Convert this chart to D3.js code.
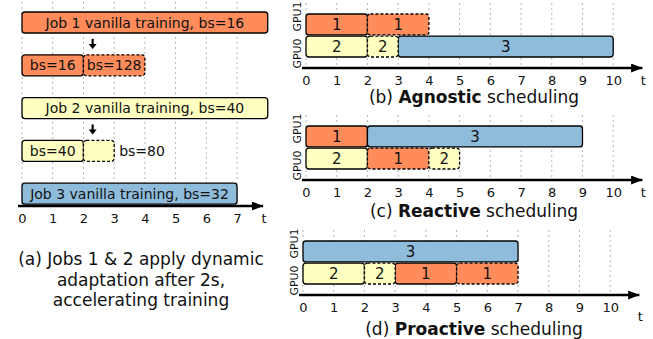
<!DOCTYPE html>
<html>
<head>
<meta charset="utf-8">
<script src="https://cdn.jsdelivr.net/npm/d3@7"></script>
<style>
  body { margin: 0; background: #fff; }
  svg { display: block; }
  text { font-family: "DejaVu Sans", Verdana, sans-serif; fill: #111; }
</style>
</head>
<body>
<svg id="chart" width="653" height="339"></svg>
<script>
// ---- data ----
const ticksA = [0, 1, 2, 3, 4, 5, 6, 7];
const ticksB = [0, 1, 2, 3, 4, 5, 6, 7, 8, 9, 10];

// (a) each job trained alone, then with dynamic batch-size adaptation
const rowsA = ["job1", "job1dyn", "job2", "job2dyn", "job3"];
const segmentsA = [
  { row: "job1",    job: 1, start: 0, end: 8, adapted: false, label: "Job 1 vanilla training, bs=16" },
  { row: "job1dyn", job: 1, start: 0, end: 2, adapted: false, label: "bs=16" },
  { row: "job1dyn", job: 1, start: 2, end: 4, adapted: true,  label: "bs=128" },
  { row: "job2",    job: 2, start: 0, end: 8, adapted: false, label: "Job 2 vanilla training, bs=40" },
  { row: "job2dyn", job: 2, start: 0, end: 2, adapted: false, label: "bs=40" },
  { row: "job2dyn", job: 2, start: 2, end: 3, adapted: true,  label: "" },
  { row: "job3",    job: 3, start: 0, end: 7, adapted: false, label: "Job 3 vanilla training, bs=32" }
];
const sideLabelsA = [{ row: "job2dyn", at: 3, label: "bs=80" }];
const adaptArrowsA = [{ from: "job1", to: "job1dyn", at: 2.3 }, { from: "job2", to: "job2dyn", at: 2.3 }];
const captionA = ["(a) Jobs 1 & 2 apply dynamic", "adaptation after 2s,", "accelerating training"];

// (b)-(d) two-GPU schedules
const gpus = ["GPU1", "GPU0"];
const schedules = [
  { tag: "(b)", name: "Agnostic", segments: [
    { gpu: "GPU1", job: 1, start: 0, end: 2,  adapted: false },
    { gpu: "GPU1", job: 1, start: 2, end: 4,  adapted: true },
    { gpu: "GPU0", job: 2, start: 0, end: 2,  adapted: false },
    { gpu: "GPU0", job: 2, start: 2, end: 3,  adapted: true },
    { gpu: "GPU0", job: 3, start: 3, end: 10, adapted: false } ] },
  { tag: "(c)", name: "Reactive", segments: [
    { gpu: "GPU1", job: 1, start: 0, end: 2,  adapted: false },
    { gpu: "GPU1", job: 3, start: 2, end: 9,  adapted: false },
    { gpu: "GPU0", job: 2, start: 0, end: 2,  adapted: false },
    { gpu: "GPU0", job: 1, start: 2, end: 4,  adapted: true },
    { gpu: "GPU0", job: 2, start: 4, end: 5,  adapted: true } ] },
  { tag: "(d)", name: "Proactive", segments: [
    { gpu: "GPU1", job: 3, start: 0, end: 7,  adapted: false },
    { gpu: "GPU0", job: 2, start: 0, end: 2,  adapted: false },
    { gpu: "GPU0", job: 2, start: 2, end: 3,  adapted: true },
    { gpu: "GPU0", job: 1, start: 3, end: 5,  adapted: false },
    { gpu: "GPU0", job: 1, start: 5, end: 7,  adapted: true } ] }
];

// ---- styling ----
const jobColor = d3.scaleOrdinal().domain([1, 2, 3]).range(["#FF8C5A", "#FFFFC2", "#8FBCDB"]);
const UNIT = 30.72;

const svg = d3.select("#chart");
const defs = svg.append("defs");
defs.append("marker")
  .attr("id", "axisHead").attr("viewBox", "0 0 10 8")
  .attr("refX", 10).attr("refY", 4)
  .attr("markerUnits", "userSpaceOnUse")
  .attr("markerWidth", 12).attr("markerHeight", 9)
  .attr("orient", "auto")
  .append("path").attr("d", "M0,0 L10,4 L0,8 Z").attr("fill", "#000");

function drawGrid(g, x, ticks, y0, y1) {
  g.append("g").selectAll("line").data(ticks).join("line")
    .attr("x1", d => x(d)).attr("x2", d => x(d))
    .attr("y1", y0).attr("y2", y1)
    .attr("stroke", "#b5b5b5").attr("stroke-width", 1)
    .attr("stroke-dasharray", "2,3");
}

function drawTimeAxis(g, x, ticks, yAxis, tipValue, tDy) {
  g.append("line")
    .attr("x1", x(0) - 4).attr("x2", x(tipValue))
    .attr("y1", yAxis).attr("y2", yAxis)
    .attr("stroke", "#000").attr("stroke-width", 2.6)
    .attr("marker-end", "url(#axisHead)");
  const axis = d3.axisBottom(x).tickValues(ticks).tickSize(0).tickPadding(0).tickFormat(d3.format("d"));
  const ag = g.append("g").attr("transform", `translate(0,${yAxis})`).call(axis);
  ag.select(".domain").remove();
  ag.selectAll(".tick text")
    .attr("y", 16.5).attr("dy", null)
    .style("font-family", '"DejaVu Sans", Verdana, sans-serif')
    .style("font-size", "13px").attr("fill", "#111");
  g.append("text")
    .attr("x", x(tipValue) + 1).attr("y", yAxis + tDy)
    .attr("text-anchor", "middle").style("font-size", "13px").text("t");
}

function drawSegments(g, data, x, y, h, labelFn, fontSize) {
  const ordered = data.slice().sort((a, b) => a.adapted - b.adapted);
  const seg = g.append("g").selectAll("g").data(ordered).join("g");
  seg.append("rect")
    .attr("x", d => x(d.start)).attr("y", d => y(d))
    .attr("width", d => x(d.end) - x(d.start)).attr("height", h)
    .attr("rx", 3).attr("ry", 3)
    .attr("fill", d => jobColor(d.job))
    .attr("stroke", "#000").attr("stroke-width", 1.3)
    .attr("stroke-dasharray", d => d.adapted ? "3,2" : null);
  seg.append("text")
    .attr("x", d => (x(d.start) + x(d.end)) / 2)
    .attr("y", d => y(d) + h / 2)
    .attr("dy", "0.36em")
    .attr("text-anchor", "middle")
    .style("font-size", fontSize)
    .text(labelFn);
}

// ---- panel (a) ----
{
  const g = svg.append("g");
  const x = d3.scaleLinear().domain([0, 8]).range([22, 22 + 8 * UNIT]);
  const y = d3.scaleBand().domain(rowsA).range([12, 204.2]).paddingInner(0.51).paddingOuter(0);
  const h = y.bandwidth();
  const axisY = 206;
  drawGrid(g, x, ticksA, 2, axisY);
  drawSegments(g, segmentsA, x, d => y(d.row), h, d => d.label, "14px");
  g.append("g").selectAll("text").data(sideLabelsA).join("text")
    .attr("x", d => x(d.at) + 5).attr("y", d => y(d.row) + h / 2).attr("dy", "0.36em")
    .style("font-size", "14px").text(d => d.label);
  // down arrows between the vanilla and the adapted rows
  const arr = g.append("g").selectAll("g").data(adaptArrowsA).join("g")
    .attr("transform", d => `translate(${x(d.at)},${(y(d.from) + h + y(d.to)) / 2})`);
  arr.append("line").attr("x1", 0).attr("x2", 0).attr("y1", -5).attr("y2", 1)
    .attr("stroke", "#000").attr("stroke-width", 2.2);
  arr.append("path").attr("d", "M-4,0 L4,0 L0,5 Z").attr("fill", "#000");
  drawTimeAxis(g, x, ticksA, axisY, 7.85, 16.5);
  g.append("g").selectAll("text").data(captionA).join("text")
    .attr("x", 141).attr("y", (d, i) => 265 + i * 20.5)
    .attr("text-anchor", "middle").style("font-size", "17px").text(d => d);
}

// ---- panels (b)-(d) ----
const panelTops = [14, 126, 241];
const panelX0 = [306, 306, 303];
const tOffsets = [16.5, 16.5, 26];
const captionOffsets = [35, 37, 40];
schedules.forEach((s, i) => {
  const top = panelTops[i];
  const g = svg.append("g");
  const x = d3.scaleLinear().domain([0, 10]).range([panelX0[i], panelX0[i] + 10 * UNIT]);
  const y = d3.scaleBand().domain(gpus).range([top, top + 43]).paddingInner(0.05).paddingOuter(0);
  const h = y.bandwidth();
  const axisY = top + 54;
  drawGrid(g, x, ticksB, top - 11, axisY);
  drawSegments(g, s.segments, x, d => y(d.gpu), h, d => d.job, "15px");
  // GPU row labels
  g.append("g").selectAll("text").data(gpus).join("text")
    .attr("transform", (d, j) => `translate(${panelX0[i] - 9},${top + (j === 0 ? 2.5 : 39.5)}) rotate(-90)`)
    .attr("text-anchor", "middle").attr("dy", "0.36em")
    .style("font-size", "11px").text(d => d);
  drawTimeAxis(g, x, ticksB, axisY, 10.95, tOffsets[i]);
  const cap = g.append("text")
    .attr("x", 474).attr("y", axisY + captionOffsets[i])
    .attr("text-anchor", "middle").style("font-size", "17px");
  cap.append("tspan").text(s.tag + " ");
  cap.append("tspan").style("font-weight", "bold").text(s.name);
  cap.append("tspan").text(" scheduling");
});
</script>
</body>
</html>
